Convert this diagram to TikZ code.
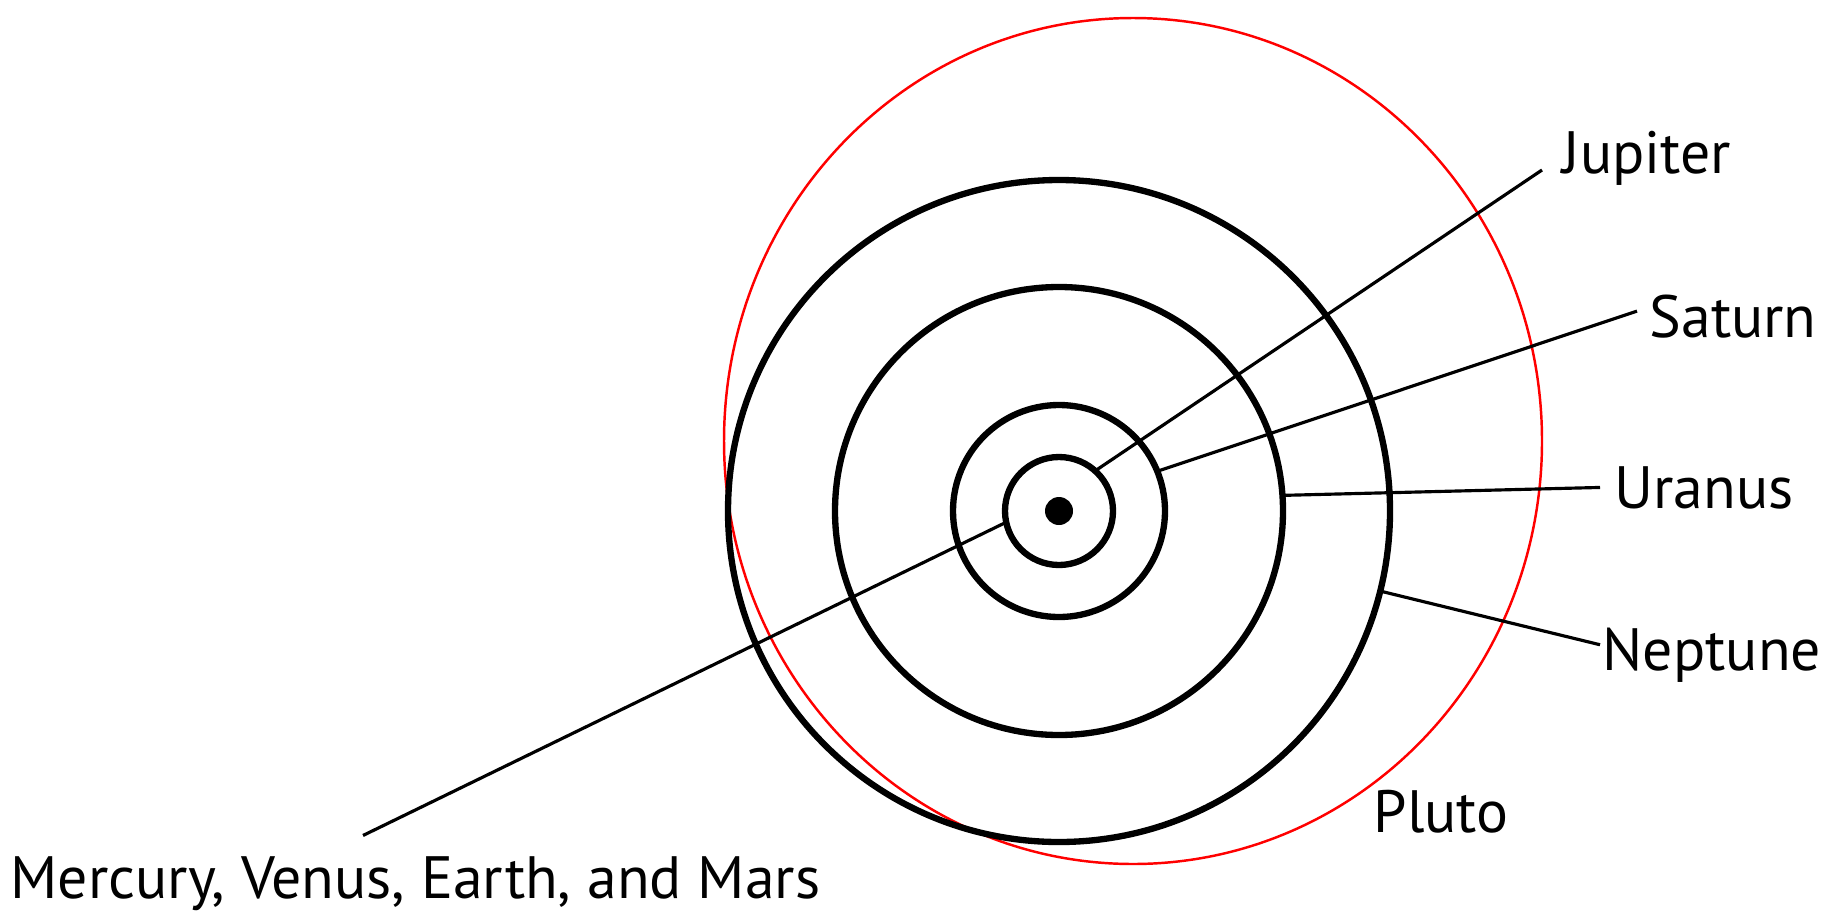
\documentclass[tikz,border=0pt]{standalone}
\usepackage{fontspec}
\setmainfont{PT Sans}

\begin{document}
\begin{tikzpicture}[x=0.1mm, y=-0.1mm,
    orbit/.style={draw, circle, line width=1.8pt, inner sep=0pt, outer sep=0pt},
    leader/.style={line width=0.9pt},
    planet/.style={font=\fontsize{17}{20}\selectfont, inner sep=0pt, anchor=base west}]
  \useasboundingbox (0,0) rectangle (1834,914);
  % Pluto's orbit
  \draw[red, line width=0.7pt] (1133,441) ellipse [x radius=40.9mm, y radius=42.3mm];
  % sun and orbits
  \node[circle, fill=black, minimum size=2.8mm, inner sep=0pt] (sun) at (1059,511) {};
  \node[orbit, minimum size=10.8mm] (inner) at (sun) {};
  \node[orbit, minimum size=21.2mm] (jupiterorb) at (sun) {};
  \node[orbit, minimum size=44.8mm] (saturnorb) at (sun) {};
  \node[orbit, minimum size=66.2mm] (uranusorb) at (sun) {};
  % labels
  \node[planet] (jupiter) at (1562,173) {Jupiter};
  \node[planet] (saturn) at (1649,337) {Saturn};
  \node[planet] (uranus) at (1614,508) {Uranus};
  \node[planet] (neptune) at (1602,670) {Neptune};
  \node[planet] (pluto) at (1373,832) {Pluto};
  \node[planet] (rocky) at (10,898) {Mercury, Venus, Earth, and Mars};
  % leader lines
  \draw[leader] (inner.48) -- ([xshift=-2mm, yshift=0.3mm]jupiter.base west);
  \draw[leader] (jupiterorb.22) -- ([xshift=-1.2mm, yshift=0.5mm]saturn.west);
  \draw[leader] (saturnorb.4) -- ([xshift=-1.4mm]uranus.west);
  \draw[leader] (uranusorb.-14) -- ([xshift=-0.2mm, yshift=1mm]neptune.west);
  \draw[leader] (inner.192) -- ([xshift=35.3mm, yshift=2mm]rocky.north west);
\end{tikzpicture}
\end{document}
